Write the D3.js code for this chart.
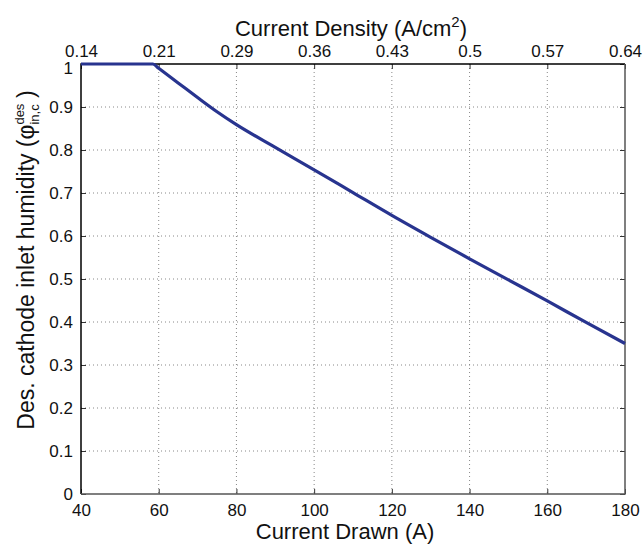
<!DOCTYPE html>
<html>
<head>
<meta charset="utf-8">
<script src="https://cdn.jsdelivr.net/npm/d3@7"></script>
<style>
  body { margin: 0; background: #fff; }
  text { font-family: "Liberation Sans", Arial, Helvetica, sans-serif; fill: #111; }
  .tick text { font-size: 17px; }
  .grid line { stroke: #888; stroke-dasharray: 1,3; }
</style>
</head>
<body>
<svg id="chart"></svg>
<script>
// data
var current = [40, 50, 58.5, 60, 65, 70, 75, 80, 90, 100, 110, 120, 130, 140, 150, 160, 170, 180];
var humidity = [1, 1, 1, 0.99, 0.956, 0.922, 0.889, 0.859, 0.806, 0.754, 0.701, 0.648, 0.597, 0.547, 0.498, 0.449, 0.399, 0.35];

var currentTicks = [40, 60, 80, 100, 120, 140, 160, 180];
var densityLabels = ["0.14", "0.21", "0.29", "0.36", "0.43", "0.5", "0.57", "0.64"];
var humidityTicks = [0, 0.1, 0.2, 0.3, 0.4, 0.5, 0.6, 0.7, 0.8, 0.9, 1];
var humidityLabels = ["0", "0.1", "0.2", "0.3", "0.4", "0.5", "0.6", "0.7", "0.8", "0.9", "1"];

var width = 643, height = 545;
var margin = {top: 64, right: 18, bottom: 51, left: 81};
var plotW = width - margin.left - margin.right;   // 544
var plotH = height - margin.top - margin.bottom;  // 430

var svg = d3.select("#chart").attr("width", width).attr("height", height);
var g = svg.append("g").attr("transform", "translate(" + margin.left + "," + margin.top + ")");

var x = d3.scaleLinear().domain([40, 180]).range([0, plotW]);
var y = d3.scaleLinear().domain([0, 1]).range([plotH, 0]);

/* ~~~ dotted grid ~~~ */
var grid = g.append("g").attr("class", "grid");
grid.selectAll("line.v")
    .data(currentTicks.slice(1, -1))
    .enter().append("line")
    .attr("class", "v")
    .attr("x1", function(d){ return x(d); }).attr("x2", function(d){ return x(d); })
    .attr("y1", 0).attr("y2", plotH);
grid.selectAll("line.h")
    .data(humidityTicks.slice(1, -1))
    .enter().append("line")
    .attr("class", "h")
    .attr("y1", function(d){ return y(d); }).attr("y2", function(d){ return y(d); })
    .attr("x1", 0).attr("x2", plotW);

/* ~~~ axes, ticks pointing inward ~~~ */
var bottomAxis = g.append("g").attr("transform", "translate(0," + plotH + ")")
    .call(d3.axisBottom(x).tickValues(currentTicks).tickSize(-5).tickPadding(10).tickFormat(d3.format("d")));
var topAxis = g.append("g")
    .call(d3.axisTop(x).tickValues(currentTicks).tickSize(-5).tickPadding(7)
        .tickFormat(function(d, i){ return densityLabels[i]; }));
var leftAxis = g.append("g")
    .call(d3.axisLeft(y).tickValues(humidityTicks).tickSize(-5).tickPadding(8)
        .tickFormat(function(d, i){ return humidityLabels[i]; }));
var rightAxis = g.append("g").attr("transform", "translate(" + plotW + ",0)")
    .call(d3.axisRight(y).tickValues(humidityTicks).tickSize(-5).tickFormat(""));

[bottomAxis, topAxis, leftAxis, rightAxis].forEach(function(a){
    a.select(".domain").remove();
    a.selectAll(".tick line").attr("stroke", "#333");
    a.selectAll(".tick text").attr("fill", "#111");
});
// the "1" sits a little lower than its tick, under the 0.14 label
leftAxis.selectAll(".tick text").filter(function(d){ return d === 1; }).attr("dy", "0.55em");

// frame: left/top black, right/bottom a bit greyer
g.append("path").attr("d", "M0," + plotH + "V0H" + plotW)
    .attr("fill", "none").attr("stroke", "#000").attr("stroke-width", 1.5);
g.append("path").attr("d", "M" + plotW + ",0V" + plotH + "H0")
    .attr("fill", "none").attr("stroke", "#555").attr("stroke-width", 1.5);

/* ~~~ curve ~~~ */
var values = current.map(function(c, i){ return {c: c, h: humidity[i]}; });
var line = d3.line()
    .x(function(d){ return x(d.c); })
    .y(function(d){ return y(d.h); })
    .curve(d3.curveMonotoneX);
g.append("path").datum(values)
    .attr("d", line)
    .attr("fill", "none")
    .attr("stroke", "#28348f")
    .attr("stroke-width", 3.2);

/* ~~~ axis titles ~~~ */
svg.append("text")
    .attr("x", 345).attr("y", 539)
    .attr("text-anchor", "middle")
    .style("font-size", "22px")
    .text("Current Drawn (A)");

var topTitle = svg.append("text")
    .attr("x", 351).attr("y", 36)
    .attr("text-anchor", "middle")
    .style("font-size", "22px");
topTitle.append("tspan").text("Current Density (A/cm");
topTitle.append("tspan").attr("dy", -9).style("font-size", "15px").text("2");
topTitle.append("tspan").attr("dy", 9).text(")");

var yTitle = svg.append("text")
    .attr("transform", "translate(34,260) rotate(-90)")
    .attr("text-anchor", "middle")
    .style("font-size", "23px");
yTitle.append("tspan").text("Des. cathode inlet humidity (φ");
var sup = yTitle.append("tspan").attr("dy", -10).style("font-size", "13px").text("des");
var sub = yTitle.append("tspan").attr("dy", 15).style("font-size", "13px").text("in,c");
sub.attr("dx", -sup.node().getComputedTextLength());
yTitle.append("tspan").attr("dy", -5).text(" )");
</script>
</body>
</html>
